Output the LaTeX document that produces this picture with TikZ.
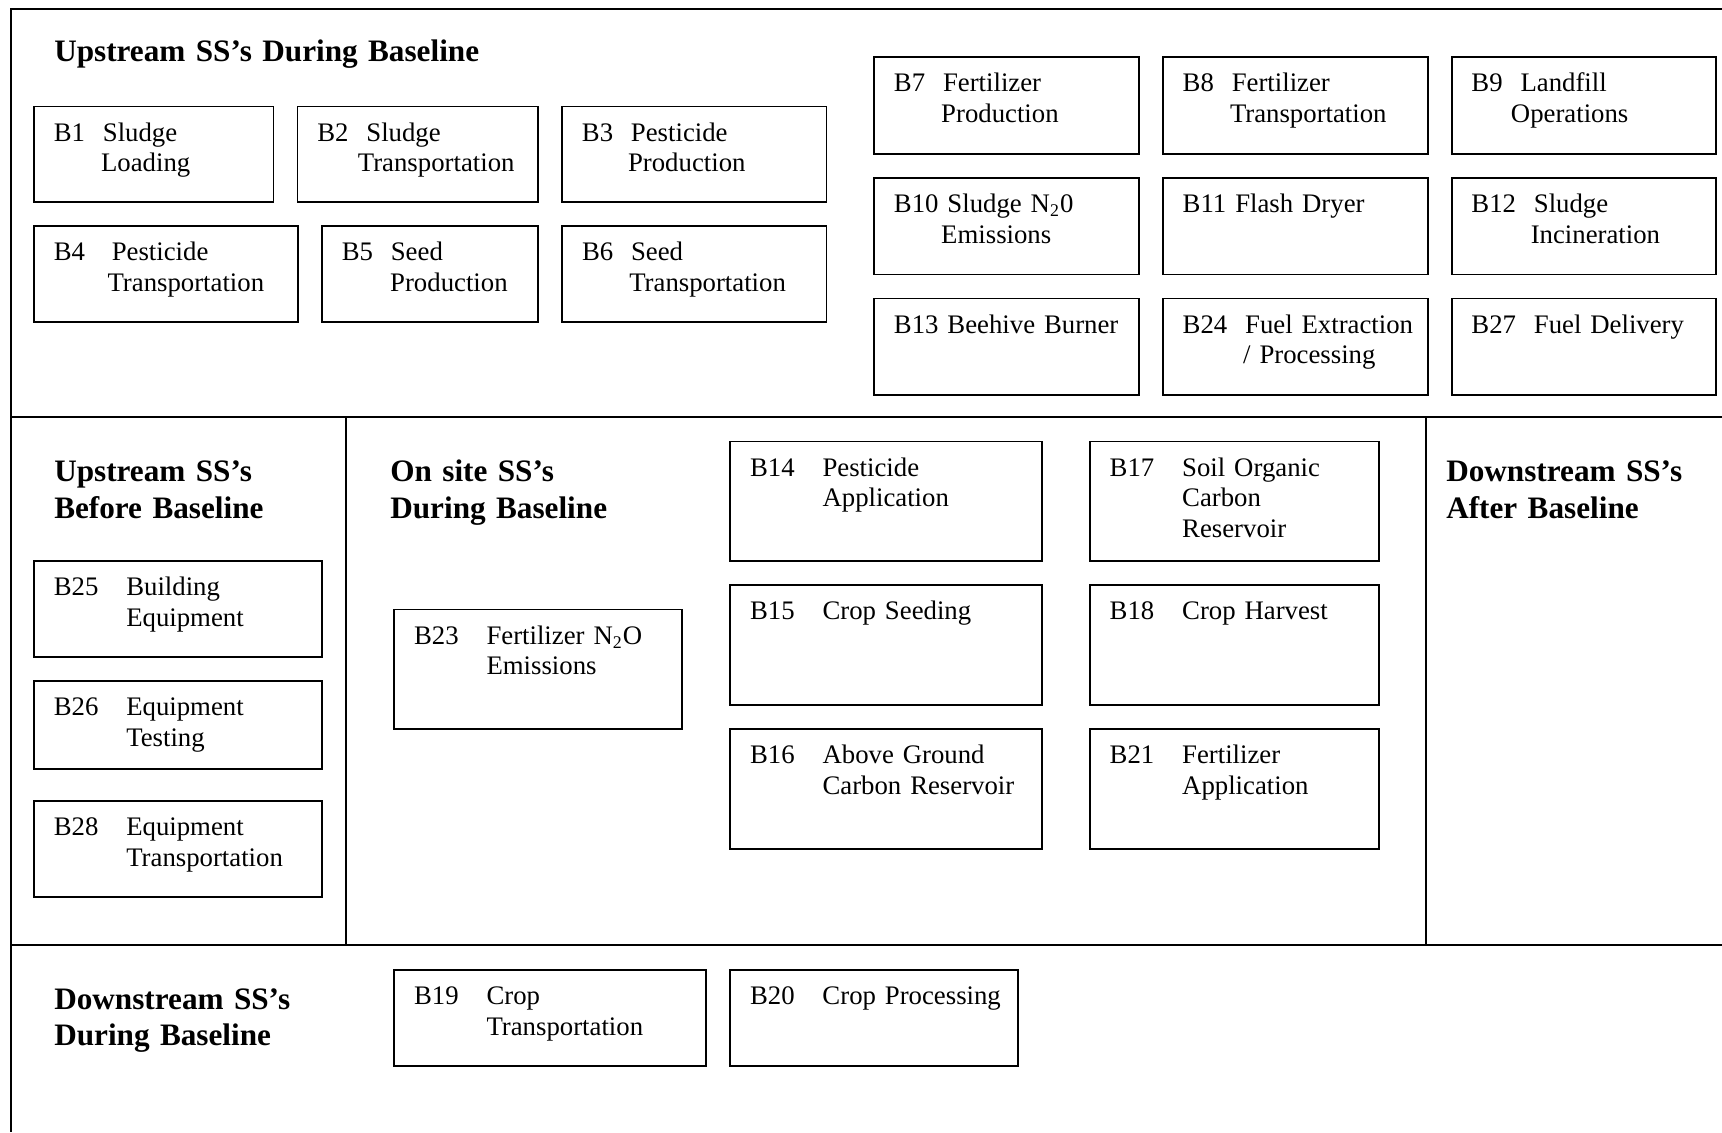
\documentclass[tikz,border=0pt]{standalone}
\usepackage{fontspec}
\setmainfont{Liberation Serif}
\usetikzlibrary{positioning}

\newcommand{\upx}{0.4925pt}
\newcommand{\boxfont}{\fontsize{12}{13.8}\selectfont}
\newcommand{\headfont}{\fontsize{14}{16.35}\selectfont\bfseries}
\newcommand{\tabbed}[2]{\makebox[32.5pt][l]{#1}\begin{tabular}[t]{@{}l@{}}#2\end{tabular}}

\begin{document}
\begin{tikzpicture}[x=\upx, y=-\upx, node distance=10.8pt,
  frame/.style = {line width=0.8pt},
  heading/.style = {anchor=base west, inner sep=0pt, text width=7cm, align=left, font=\headfont},
  block/.style = {draw, rectangle, line width=0.8pt, outer sep=0pt, anchor=north west,
    inner xsep=8.87pt, inner ysep=5.85pt, text height=9.66pt, align=left, font=\boxfont},
  boxsize/.code 2 args = {%
    \pgfmathsetlengthmacro\bw{#1*\upx}%
    \pgfmathsetlengthmacro\bh{#2*\upx}%
    \pgfmathsetlengthmacro\tw{#1*\upx-17.74pt}%
    \pgfmathsetlengthmacro\td{#2*\upx-21.36pt}%
    \edef\sbnext{\noexpand\tikzset{minimum width=\bw, minimum height=\bh, text width=\tw, text depth=\td}}\sbnext}]

\useasboundingbox (0,0) rectangle (1568,1030.8);

% Frame
\draw[frame] (1568,8.5) -- (10,8.5) -- (10,1030.8);
\draw[frame] (10,380) -- (1568,380);
\draw[frame] (10,860.5) -- (1568,860.5);
\draw[frame] (315,380) -- (315,860.5);
\draw[frame] (1298.5,380) -- (1298.5,860.5);

% Headings
\node (upduring) [heading] at (49,56) {Upstream SS’s During Baseline};
\node (upbefore) [heading] at (49,438.5) {Upstream SS’s\\Before Baseline};
\node (onsite) [heading] at (355,438.5) {On site SS’s\\During Baseline};
\node (downafter) [heading] at (1316.5,438.5) {Downstream SS’s\\After Baseline};
\node (downduring) [heading] at (49,919) {Downstream SS’s\\During Baseline};

% Upstream during baseline, left part
\node (b1) [block, boxsize={218}{87}] at (31,97) {B1\ \ Sludge\\\hspace*{21.2pt}Loading};
\node (b2) [block, boxsize={219}{87}, right=of b1] {B2\ \ Sludge\\\hspace*{18.2pt}Transportation};
\node (b3) [block, boxsize={240.7}{87}, right=of b2] {B3\ \ Pesticide\\\hspace*{20.7pt}Production};
\node (b4) [block, boxsize={240.3}{87}, below=of b1.south west, anchor=north west] {B4\ \ \ Pesticide\\\hspace*{24.1pt}Transportation};
\node (b5) [block, boxsize={196.8}{87}, right=of b4] {B5\ \ Seed\\\hspace*{21.7pt}Production};
\node (b6) [block, boxsize={240.7}{87}, right=of b5] {B6\ \ Seed\\\hspace*{21.2pt}Transportation};

% Upstream during baseline, right part
\node (b7) [block, boxsize={241}{88}] at (796,52) {B7\ \ Fertilizer\\\hspace*{21.2pt}Production};
\node (b8) [block, boxsize={241}{88}, right=of b7] {B8\ \ Fertilizer\\\hspace*{21.2pt}Transportation};
\node (b9) [block, boxsize={240.5}{88}, right=of b8] {B9\ \ Landfill\\\hspace*{17.7pt}Operations};
\node (b10) [block, boxsize={241}{88}, below=of b7.south west, anchor=north west] {B10 Sludge N\textsubscript{2}0\\\hspace*{21.2pt}Emissions};
\node (b11) [block, boxsize={241}{88}, right=of b10] {\mbox{B11 Flash Dryer}};
\node (b12) [block, boxsize={240.5}{88}, right=of b11] {B12\ \ Sludge\\\hspace*{26.6pt}Incineration};
\node (b13) [block, boxsize={241}{88}, below=of b10.south west, anchor=north west] {\mbox{B13 Beehive Burner}};
\node (b24) [block, boxsize={241}{88}, right=of b13] {\mbox{B24\ \ Fuel Extraction}\\\hspace*{27.1pt}/ Processing};
\node (b27) [block, boxsize={240.5}{88}, right=of b24] {\mbox{B27\ \ Fuel Delivery}};

% Upstream before baseline
\node (b25) [block, boxsize={262}{87.5}] at (31,511) {\tabbed{B25}{Building\\Equipment}};
\node (b26) [block, boxsize={262}{80}, below=of b25.south west, anchor=north west] {\tabbed{B26}{Equipment\\Testing}};
\node (b28) [block, boxsize={262}{87.5}, below=14.3pt of b26.south west, anchor=north west] {\tabbed{B28}{Equipment\\Transportation}};

% On site during baseline
\node (b23) [block, boxsize={262}{109}] at (359,555) {\tabbed{B23}{Fertilizer N\textsubscript{2}O\\Emissions}};
\node (b14) [block, boxsize={284}{109}] at (665,402) {\tabbed{B14}{Pesticide\\Application}};
\node (b15) [block, boxsize={284}{109}, below=of b14.south west, anchor=north west] {\tabbed{B15}{Crop Seeding}};
\node (b16) [block, boxsize={284}{109}, below=of b15.south west, anchor=north west] {\tabbed{B16}{Above Ground\\Carbon Reservoir}};
\node (b17) [block, boxsize={263}{109}, right=21.4pt of b14] {\tabbed{B17}{Soil Organic\\Carbon\\Reservoir}};
\node (b18) [block, boxsize={263}{109}, right=21.4pt of b15] {\tabbed{B18}{Crop Harvest}};
\node (b21) [block, boxsize={263}{109}, right=21.4pt of b16] {\tabbed{B21}{Fertilizer\\Application}};

% Downstream during baseline
\node (b19) [block, boxsize={284}{87}] at (359,883.5) {\tabbed{B19}{Crop\\Transportation}};
\node (b20) [block, boxsize={262}{87}, right=of b19] {\tabbed{B20}{Crop Processing}};
\end{tikzpicture}
\end{document}
